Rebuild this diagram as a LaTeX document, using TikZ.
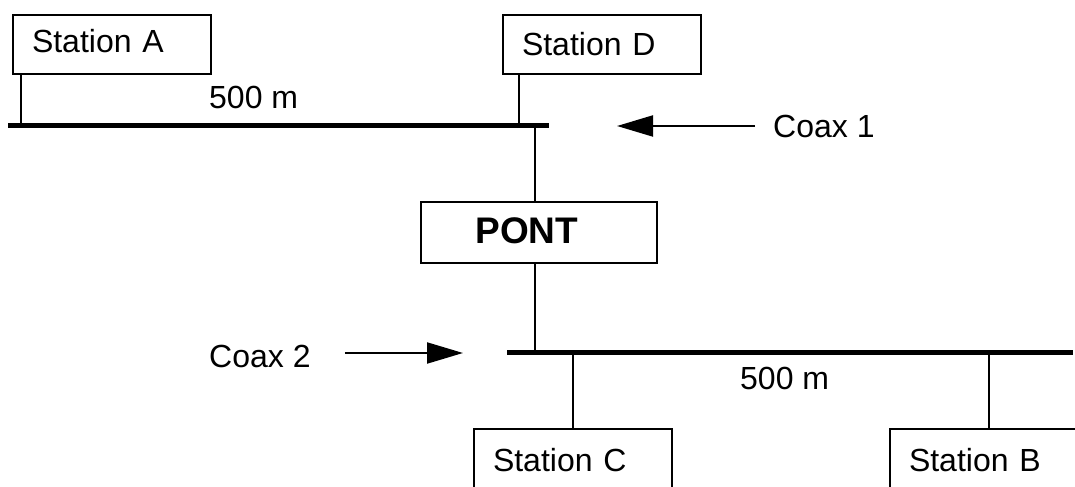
\documentclass[tikz,border=0pt]{standalone}
\usepackage{fontspec}
\setmainfont{Liberation Sans}
\usetikzlibrary{arrows.meta}
\begin{document}
\begin{tikzpicture}[x=1bp,y=-1bp,
  lbl/.style={inner sep=0pt, font=\fontsize{32bp}{38bp}\selectfont},
  station/.style={draw, line width=2bp, minimum width=198bp, text width=160bp,
    inner xsep=19bp, inner ysep=0pt, align=left,
    font=\fontsize{32bp}{38bp}\selectfont, text height=23bp, anchor=north west},
  bridge/.style={draw, line width=2bp, minimum width=236bp, minimum height=61bp,
    text width=127bp, inner xsep=54.5bp, inner ysep=0pt, align=left,
    font=\bfseries\fontsize{37bp}{44bp}\selectfont, text height=27bp, text depth=4bp,
    anchor=north west},
  bus/.style={line width=5.5bp},
  wire/.style={line width=2bp},
  coax/.style={line width=2bp, -{Triangle[length=36bp,width=21bp]}}
]
\useasboundingbox (0,0) rectangle (1075,487);

% stations
\node[station, minimum height=59bp, text depth=6bp] (A) at (12,14) {Station A};
\node[station, minimum height=59bp, text depth=0bp] (D) at (502,14) {Station D};
\node[station, minimum height=70bp, text depth=9bp] (C) at (473,428) {Station C};
\node[station, minimum height=70bp, text depth=9bp] (B) at (889,428) {Station B};

% bridge
\node[bridge] (P) at (420,201) {PONT};

% buses
\coordinate (t1) at (8,125.5);
\coordinate (t2) at (549,125.5);
\draw[bus] (t1) -- (t2);
\coordinate (u1) at (507,352.5);
\coordinate (u2) at (1073,352.5);
\draw[bus] (u1) -- (u2);

% drops
\coordinate (a0) at ([xshift=8.5bp]A.south west);
\draw[wire] (a0) -- (a0 |- t1);
\coordinate (d0) at ([xshift=17bp]D.south west);
\draw[wire] (d0) -- (d0 |- t1);
\coordinate (p1) at (534.5,125.5);
\draw[wire] (p1) -- (p1 |- P.north);
\coordinate (p2) at (534.5,352.5);
\draw[wire] (p2 |- P.south) -- (p2);
\draw[wire] (C.north) -- (C.north |- u1);
\draw[wire] (B.north) -- (B.north |- u1);

% labels
\node[lbl, anchor=base west] (len1) at (209,109) {500 m};
\node[lbl, anchor=base west] (len2) at (740,389) {500 m};
\node[lbl, anchor=base west] (c1) at (773,138) {Coax 1};
\node[lbl, anchor=base west] (c2) at (209,368) {Coax 2};

% coax arrows
\coordinate (c1s) at ([xshift=-18bp]c1.west);
\coordinate (c1tip) at (617,126);
\draw[coax] (c1s |- c1tip) -- (c1tip);
\coordinate (c2s) at ([xshift=34bp]c2.east);
\coordinate (c2tip) at (463,353);
\draw[coax] (c2s |- c2tip) -- (c2tip);
\end{tikzpicture}
\end{document}
